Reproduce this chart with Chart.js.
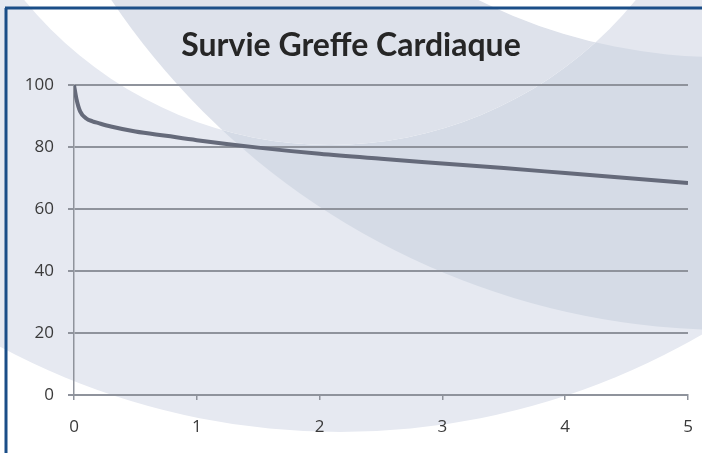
<!DOCTYPE html>
<html>
<head>
<meta charset="utf-8">
<script src="https://cdn.jsdelivr.net/npm/chart.js@4.4.1/dist/chart.umd.min.js"></script>
<style>
    html, body { margin: 0; padding: 0; background: #fff; }
    #chartSurvie { display: block; }
</style>
</head>
<body>
<canvas id="chartSurvie" width="702" height="453"></canvas>
<script>
// Survie (%) apres greffe cardiaque, en annees
var years = [0, 0.02, 0.05, 0.1, 0.15, 0.2, 0.3, 0.5, 0.75, 1, 1.5, 2, 2.5, 3, 3.5, 4, 4.5, 5];
var survival = [100, 95.5, 91.5, 89.2, 88.3, 87.7, 86.6, 85.0, 83.6, 82.2, 79.8, 77.8, 76.2, 74.7, 73.2, 71.6, 70.0, 68.4];
var yTicks = [0, 20, 40, 60, 80, 100];
var xTicks = [0, 1, 2, 3, 4, 5];
var chartTitle = 'Survie Greffe Cardiaque';

(function () {
    function circle(ctx, cx, cy, r) {
        ctx.beginPath();
        ctx.arc(cx, cy, r, 0, Math.PI * 2);
    }

    // decor de fond (diapo) + cadre bleu
    var backdrop = {
        id: 'backdrop',
        beforeDraw: function (chart) {
            var ctx = chart.ctx;
            var w = chart.width, h = chart.height;
            ctx.save();
            ctx.fillStyle = '#ffffff';
            ctx.fillRect(0, 0, w, h);

            circle(ctx, 340, -288, 720);
            ctx.fillStyle = '#e6e9f1';
            ctx.fill();

            circle(ctx, 730, -415, 745);
            ctx.fillStyle = '#d5dbe6';
            ctx.fill();

            // cercle du haut : blanc hors du grand disque, gris moyen dedans
            ctx.save();
            circle(ctx, 330, -250, 395);
            ctx.clip();
            ctx.fillStyle = '#ffffff';
            ctx.fillRect(0, 0, w, h);
            circle(ctx, 730, -415, 745);
            ctx.fillStyle = '#dee2eb';
            ctx.fill();
            ctx.restore();

            // coin haut droit
            ctx.save();
            circle(ctx, 720, -483, 540);
            ctx.clip();
            ctx.fillStyle = '#e4e7ef';
            ctx.fillRect(0, 0, w, h);
            circle(ctx, 330, -250, 395);
            ctx.fillStyle = '#ffffff';
            ctx.fill();
            ctx.restore();

            ctx.strokeStyle = '#1b4e88';
            ctx.lineWidth = 3;
            ctx.beginPath();
            ctx.moveTo(5, 8);
            ctx.lineTo(w, 8);
            ctx.moveTo(6, 8);
            ctx.lineTo(6, h);
            ctx.stroke();
            ctx.restore();
        }
    };

    var el = document.getElementById('chartSurvie');

    new Chart(el, {
        type: 'line',
        data: {
            datasets: [{
                label: 'Survie',
                data: years.map(function (t, i) { return { x: t, y: survival[i] }; }),
                borderColor: '#656a7a',
                borderWidth: 4,
                pointRadius: 0,
                fill: false,
                cubicInterpolationMode: 'monotone'
            }]
        },
        options: {
            responsive: false,
            animation: false,
            layout: { padding: { left: 0, right: 0, top: 0, bottom: 0 } },
            plugins: {
                legend: { display: false },
                tooltip: { enabled: false },
                title: {
                    display: true,
                    text: chartTitle,
                    color: '#262626',
                    font: { family: 'Lato', size: 32, weight: 'bold' },
                    padding: { top: 26, bottom: 20.6 }
                }
            },
            scales: {
                x: {
                    type: 'linear',
                    min: 0,
                    max: 5,
                    afterBuildTicks: function (scale) {
                        scale.ticks = xTicks.map(function (v) { return { value: v }; });
                    },
                    afterFit: function (scale) {
                        scale.height = 58;
                        scale.paddingRight = 14;
                    },
                    grid: {
                        drawOnChartArea: false,
                        drawTicks: true,
                        tickLength: 5,
                        color: '#8f939c',
                        lineWidth: 1.5
                    },
                    border: { display: true, color: '#8f939c', width: 2 },
                    ticks: {
                        color: '#3a3a3a',
                        padding: 17,
                        maxRotation: 0,
                        font: { family: 'Open Sans', size: 17 }
                    }
                },
                y: {
                    min: 0,
                    max: 100,
                    afterBuildTicks: function (scale) {
                        scale.ticks = yTicks.map(function (v) { return { value: v }; });
                    },
                    afterFit: function (scale) {
                        scale.width = 74;
                    },
                    grid: {
                        drawTicks: true,
                        tickLength: 6,
                        color: '#8f939c',
                        lineWidth: 2
                    },
                    border: { display: true, color: '#8f939c', width: 1.5 },
                    ticks: {
                        color: '#3a3a3a',
                        padding: 14,
                        font: { family: 'Open Sans', size: 17 }
                    }
                }
            }
        },
        plugins: [backdrop]
    });
})();
</script>
</body>
</html>
